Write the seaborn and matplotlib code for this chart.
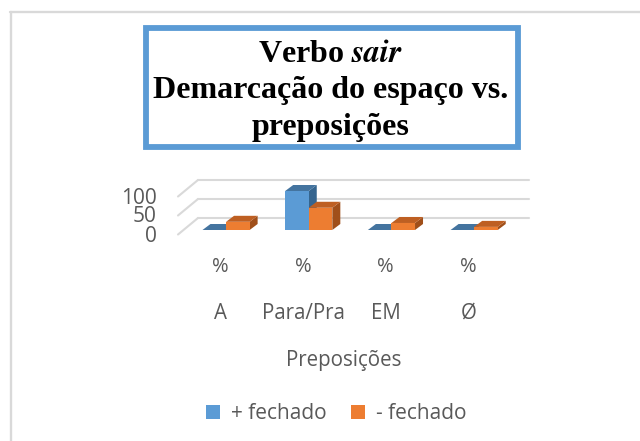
import matplotlib
matplotlib.use("Agg")
import matplotlib.pyplot as plt
import seaborn as sns
import pandas as pd
from matplotlib.patches import Polygon, Rectangle
from matplotlib.transforms import IdentityTransform

categories = ["A", "Para/Pra", "EM", "Ø"]
fechado_mais = [0, 100, 0, 0]
fechado_menos = [21, 57, 18, 8]
series_names = ["+ fechado", "- fechado"]
y_ticks = [0, 50, 100]
W, H = 640, 441
BLUE, ORANGE = "#5B9BD5", "#ED7D31"
TOP = {BLUE: "#44749F", ORANGE: "#BE5F22"}
SIDE = {BLUE: "#35658F", ORANGE: "#A04F1A"}
GRAY = "#595959"
GRID = "#D9D9D9"
DX, DY = 8, 6   # bar depth, px

sns.set_style("white")
plt.rcParams["font.family"] = ["Open Sans", "DejaVu Sans"]
fig = plt.figure(figsize=(W / 100, H / 100), dpi=100, facecolor="white")
L, R, B, T = 184.7, 515.5, 230, 191
ax = fig.add_axes([L / W, 1 - B / H, (R - L) / W, (B - T) / H])
ax.patch.set_alpha(0)

df = pd.DataFrame({
    "cat": categories * 2,
    "val": fechado_mais + fechado_menos,
    "ser": [series_names[0]] * 4 + [series_names[1]] * 4,
})
sns.barplot(data=df, x="cat", y="val", hue="ser", palette=[BLUE, ORANGE],
            width=0.57, gap=0, dodge=True, ax=ax, legend=False, errorbar=None,
            saturation=1, zorder=3, linewidth=0, edgecolor="none")
ax.set_xlim(-0.5, 3.5)
ax.set_ylim(0, 100)
for s in ax.spines.values():
    s.set_visible(False)
ax.set_ylabel("")
ax.set_xlabel("")
ax.set_yticks([])

# back wall gridlines and floor diagonals, from the y scale
for v in y_ticks:
    yp = ax.transData.transform((0, v))[1]
    y_back = yp + 12 - 0.01 * v
    y_left = y_back - 16.5
    fig.add_artist(plt.Line2D([198 / W, 529 / W], [y_back / H, y_back / H], color=GRID, lw=1.5, zorder=0))
    fig.add_artist(plt.Line2D([178 / W, 198 / W], [y_left / H, y_back / H], color=GRID, lw=1.5, zorder=0))
    fig.text(156.5 / W, (yp - 6 - 0.01 * v) / H, str(v), ha="right", va="center",
             fontsize=15, color=GRAY)

# 3D faces of each bar, in pixel space derived from the drawn bars
for bar in list(ax.patches):
    c = BLUE if abs(bar.get_facecolor()[2] - 0.835) < 0.02 else ORANGE
    h = bar.get_height()
    if h is None or bar.get_width() == 0:
        continue
    (x0, y0) = ax.transData.transform((bar.get_x(), 0))
    (x1, y1) = ax.transData.transform((bar.get_x() + bar.get_width(), h))
    side = Polygon([(x1, y0), (x1 + DX, y0 + DY), (x1 + DX, y1 + DY), (x1, y1)],
                   closed=True, fc=SIDE[c], ec="none", transform=IdentityTransform(),
                   zorder=2, clip_on=False)
    top = Polygon([(x0, y1), (x0 + DX, y1 + DY), (x1 + DX, y1 + DY), (x1, y1)],
                  closed=True, fc=TOP[c], ec="none", transform=IdentityTransform(),
                  zorder=2 + (1 if c == ORANGE else 0), clip_on=False)
    ax.add_patch(side)
    ax.add_patch(top)

# category labels
ax.set_xticks(range(len(categories)))
ax.set_xticklabels(categories)
ax.tick_params(axis="x", length=0, pad=0, labelbottom=False)
for i, cat in enumerate(categories):
    xp = ax.transData.transform((i, 0))[0] - 5.7
    fig.text(xp / W, 1 - 266.5 / H, "%", ha="center", va="center", fontsize=14.5, color=GRAY)
    fig.text(xp / W, 1 - 313.5 / H, cat, ha="center", va="center", fontsize=14.8, color=GRAY)
fig.text(344 / W, 1 - 360.5 / H, "Preposições", ha="center", va="center", fontsize=14.8, color=GRAY)

# legend
for x0, name, c, tx in [(206, series_names[0], BLUE, 231), (351, series_names[1], ORANGE, 376)]:
    fig.add_artist(Rectangle((x0 / W, 1 - 419 / H), 14 / W, 14 / H, transform=fig.transFigure, fc=c, ec="none"))
    fig.text(tx / W, 1 - 413.5 / H, name, ha="left", va="center", fontsize=15, color=GRAY)

# outer chart frame: top and left edges only
fig.add_artist(plt.Line2D([10.7 / W, 10.7 / W], [0, 1 - 11.5 / H], color="#D9D9D9", lw=1.7, zorder=0))
fig.add_artist(plt.Line2D([10 / W, 1], [1 - 11.7 / H, 1 - 11.7 / H], color="#D9D9D9", lw=1.7, zorder=0))

# title box
fig.add_artist(Rectangle((146 / W, 1 - 146.5 / H), 371.5 / W, 119 / H, transform=fig.transFigure,
                         fc="white", ec=BLUE, lw=4.2, zorder=1))
serif = "Liberation Serif"
fig.text(331 / W, 1 - 55 / H, r"Verbo $\mathbfit{sair}$", ha="center", va="center", fontsize=23,
         fontweight="bold", family=serif, color="black", math_fontfamily="stix")
fig.text(331 / W, 1 - 91 / H, "Demarcação do espaço vs.", ha="center", va="center", fontsize=23,
         fontweight="bold", family=serif, color="black")
fig.text(331 / W, 1 - 128 / H, "preposições", ha="center", va="center", fontsize=23,
         fontweight="bold", family=serif, color="black")

fig.savefig("out.png", dpi=100, facecolor="white")
